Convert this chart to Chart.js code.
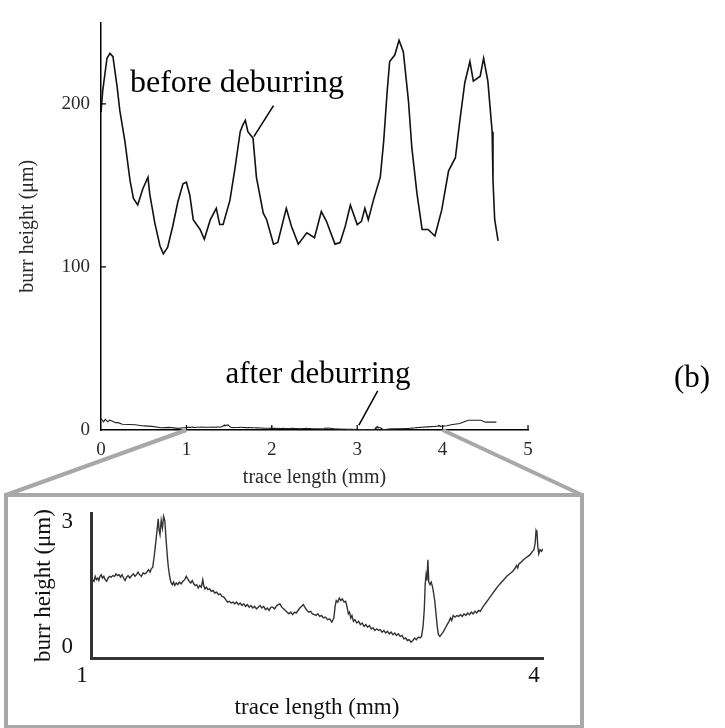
<!DOCTYPE html>
<html>
<head>
<meta charset="utf-8">
<script src="https://cdn.jsdelivr.net/npm/chart.js@4.4.1/dist/chart.umd.min.js"></script>
<style>
  html, body { margin: 0; padding: 0; background: #fff; }
  #wrap { position: relative; width: 725px; height: 728px; }
  #wrap canvas { position: absolute; left: 0; top: 0; }
</style>
</head>
<body>
<div id="wrap">
  <canvas id="mainChart" width="725" height="728"></canvas>
  <canvas id="zoomChart" width="725" height="728"></canvas>
</div>
<script>
// burr profile before deburring (trace length mm / height um)
const beforeX = [0.00, 0.02, 0.07, 0.105, 0.14, 0.19, 0.22, 0.28, 0.34, 0.38, 0.43, 0.49, 0.55, 0.57, 0.63, 0.69, 0.73, 0.78, 0.84, 0.90, 0.96, 1.00,
  1.04, 1.08, 1.16, 1.21, 1.28, 1.35, 1.39, 1.43, 1.51, 1.57, 1.63, 1.66, 1.69, 1.72, 1.78, 1.82, 1.90, 1.94, 2.02, 2.07, 2.17, 2.23, 2.31,
  2.41, 2.50, 2.58, 2.64, 2.74, 2.80, 2.86, 2.92, 3.00, 3.05, 3.09, 3.13, 3.19, 3.27, 3.31, 3.35, 3.38, 3.44, 3.49, 3.54, 3.60, 3.64, 3.70,
  3.76, 3.83, 3.87, 3.91, 3.99, 4.07, 4.15, 4.20, 4.26, 4.32, 4.36, 4.44, 4.48, 4.53, 4.58, 4.59, 4.61, 4.65];
const beforeY = [195, 208, 228, 231, 229, 210, 196, 177, 153, 142, 138, 148, 155, 145, 127, 113, 108, 112, 125, 140, 151, 152,
  144, 129, 123, 117, 129, 136, 126, 126, 141, 161, 183, 187, 190, 183, 179, 155, 133, 129, 114, 115, 136, 125, 114,
  121, 118, 134, 128, 114, 115, 125, 138, 126, 128, 136, 129, 141, 155, 177, 207, 226, 230, 239, 232, 202, 173, 145,
  123, 123, 121, 119, 135, 159, 167, 189, 213, 226, 214, 217, 228, 214, 183, 153, 129, 116];

// after deburring, outside the magnified span
const afterHeadX = [0.00, 0.03, 0.05, 0.08, 0.10, 0.13, 0.17, 0.20, 0.25, 0.40, 0.50, 0.60, 0.70, 0.80, 0.90, 0.96];
const afterHeadY = [7.0, 5.0, 6.5, 5.0, 6.0, 5.5, 4.5, 4.5, 3.5, 3.2, 2.5, 2.2, 1.4, 1.6, 1.0, 1.4];
const afterTailX = [4.05, 4.10, 4.20, 4.27, 4.30, 4.45, 4.50, 4.63];
const afterTailY = [2.6, 3.2, 4.0, 5.4, 6.0, 6.0, 4.8, 4.8];

// after deburring, 1-4 mm (magnified)
const zoomX = [1.000, 1.010, 1.020, 1.028, 1.036, 1.045, 1.052, 1.060, 1.068, 1.076, 1.085, 1.094, 1.104, 1.114, 1.124, 1.134, 1.145,
  1.156, 1.166, 1.176, 1.186, 1.196, 1.206, 1.216, 1.226, 1.236, 1.246, 1.258, 1.270, 1.282, 1.292, 1.302, 1.312, 1.322, 1.334, 1.346,
  1.358, 1.370, 1.382, 1.392, 1.400, 1.410, 1.420, 1.430, 1.440, 1.446, 1.452, 1.458, 1.466, 1.474, 1.482, 1.490, 1.496, 1.502, 1.508,
  1.514, 1.522, 1.530, 1.540, 1.548, 1.556, 1.566, 1.576, 1.586, 1.598, 1.610, 1.622, 1.632, 1.642, 1.652, 1.662, 1.672, 1.682, 1.692,
  1.702, 1.712, 1.722, 1.732, 1.742, 1.748, 1.756, 1.766, 1.776, 1.788, 1.798, 1.810, 1.822, 1.834, 1.846, 1.858, 1.870, 1.882, 1.894,
  1.906, 1.918, 1.930, 1.942, 1.954, 1.966, 1.978, 1.990, 2.002, 2.014, 2.026, 2.038, 2.050, 2.062, 2.074, 2.086, 2.098, 2.110, 2.122,
  2.134, 2.146, 2.158, 2.170, 2.182, 2.194, 2.206, 2.218, 2.230, 2.242, 2.254, 2.266, 2.278, 2.290, 2.302, 2.314, 2.326, 2.338, 2.350,
  2.362, 2.374, 2.386, 2.398, 2.410, 2.422, 2.434, 2.446, 2.458, 2.470, 2.482, 2.494, 2.506, 2.518, 2.530, 2.542, 2.556, 2.570, 2.584,
  2.598, 2.612, 2.620, 2.628, 2.638, 2.648, 2.658, 2.668, 2.680, 2.690, 2.700, 2.708, 2.716, 2.724, 2.732, 2.742, 2.752, 2.764, 2.776,
  2.788, 2.800, 2.812, 2.824, 2.836, 2.848, 2.860, 2.872, 2.884, 2.896, 2.908, 2.920, 2.932, 2.944, 2.956, 2.968, 2.980, 2.992, 3.004,
  3.016, 3.028, 3.040, 3.052, 3.064, 3.076, 3.088, 3.100, 3.112, 3.124, 3.136, 3.148, 3.160, 3.172, 3.184, 3.194, 3.204, 3.212, 3.218,
  3.224, 3.230, 3.236, 3.242, 3.250, 3.258, 3.266, 3.274, 3.282, 3.290, 3.298, 3.306, 3.316, 3.328, 3.340, 3.352, 3.364, 3.376, 3.386,
  3.394, 3.404, 3.416, 3.428, 3.440, 3.452, 3.464, 3.476, 3.488, 3.500, 3.512, 3.524, 3.536, 3.548, 3.560, 3.572, 3.584, 3.600, 3.620,
  3.640, 3.660, 3.680, 3.700, 3.720, 3.740, 3.760, 3.780, 3.800, 3.815, 3.825, 3.832, 3.840, 3.855, 3.870, 3.885, 3.900, 3.915, 3.930,
  3.940, 3.948, 3.954, 3.960, 3.966, 3.972, 3.980, 3.990, 4.000];
const zoomY = [1.56, 1.62, 1.58, 1.70, 1.62, 1.66, 1.60, 1.70, 1.74, 1.66, 1.70, 1.62, 1.58, 1.66, 1.70, 1.68, 1.72,
  1.70, 1.76, 1.72, 1.74, 1.68, 1.74, 1.66, 1.60, 1.68, 1.72, 1.66, 1.72, 1.76, 1.70, 1.74, 1.80, 1.74, 1.70, 1.78,
  1.76, 1.80, 1.86, 1.80, 1.88, 1.92, 2.20, 2.52, 2.86, 3.08, 2.80, 2.70, 3.04, 2.86, 3.14, 3.04, 2.70, 2.40, 2.12,
  1.90, 1.70, 1.56, 1.50, 1.56, 1.48, 1.54, 1.50, 1.56, 1.52, 1.58, 1.62, 1.70, 1.64, 1.58, 1.54, 1.60, 1.52, 1.48,
  1.50, 1.42, 1.48, 1.44, 1.62, 1.48, 1.40, 1.44, 1.38, 1.40, 1.34, 1.36, 1.30, 1.32, 1.26, 1.28, 1.22, 1.20, 1.14,
  1.08, 1.10, 1.06, 1.08, 1.04, 1.08, 1.02, 1.06, 1.00, 1.04, 0.98, 1.02, 0.96, 1.00, 0.94, 0.98, 0.92, 0.96, 1.00,
  0.94, 0.98, 0.90, 0.94, 0.88, 0.96, 0.96, 0.92, 0.98, 1.02, 1.04, 0.96, 0.92, 0.88, 0.84, 0.80, 0.84, 0.78, 0.84,
  0.82, 0.88, 0.94, 0.98, 1.02, 0.94, 0.88, 0.84, 0.86, 0.80, 0.78, 0.76, 0.80, 0.74, 0.76, 0.70, 0.72, 0.66, 0.68,
  0.60, 0.70, 0.98, 1.12, 1.08, 1.18, 1.12, 1.16, 1.08, 1.10, 0.96, 0.80, 0.84, 0.70, 0.76, 0.62, 0.66, 0.58, 0.62,
  0.54, 0.58, 0.50, 0.54, 0.48, 0.52, 0.44, 0.46, 0.40, 0.44, 0.40, 0.42, 0.36, 0.40, 0.34, 0.38, 0.32, 0.36, 0.30,
  0.34, 0.28, 0.32, 0.26, 0.28, 0.20, 0.22, 0.16, 0.18, 0.12, 0.16, 0.22, 0.18, 0.24, 0.22, 0.26, 0.50, 0.90, 1.50,
  1.74, 1.60, 2.10, 1.56, 1.50, 1.56, 1.46, 1.30, 1.10, 0.80, 0.50, 0.30, 0.26, 0.32, 0.38, 0.46, 0.54, 0.62, 0.70,
  0.64, 0.76, 0.72, 0.76, 0.74, 0.78, 0.74, 0.80, 0.76, 0.82, 0.78, 0.84, 0.80, 0.86, 0.82, 0.88, 0.86, 0.96, 1.06,
  1.16, 1.26, 1.36, 1.46, 1.54, 1.62, 1.70, 1.76, 1.82, 1.90, 1.96, 1.90, 2.00, 2.04, 2.10, 2.14, 2.18, 2.22, 2.30,
  2.34, 2.50, 2.80, 2.74, 2.40, 2.24, 2.34, 2.30, 2.36];

const mainXTicks = [0, 1, 2, 3, 4, 5];
const mainYTicks = [0, 100, 200];
const zoomXTicks = [1, 4];
const zoomYTicks = [0, 3];

const toPoints = (xs, ys) => xs.map((x, i) => ({ x: x, y: ys[i] }));
const afterX = afterHeadX.concat(zoomX, afterTailX);
const afterY = afterHeadY.concat(zoomY, afterTailY);

const serif = '"Liberation Serif", "Times New Roman", serif';

// frame, connector lines, inward ticks and curve labels
const overlay = {
  id: 'overlay',
  afterDraw(chart) {
    const { ctx, scales: { x, y } } = chart;
    const base = y.getPixelForValue(0);
    const px = (vx, vy) => [x.getPixelForValue(vx), y.getPixelForValue(vy)];
    ctx.save();

    ctx.strokeStyle = '#000';
    ctx.lineWidth = 1.2;
    ctx.beginPath();
    mainXTicks.slice(1).forEach(v => {
      const p = x.getPixelForValue(v);
      ctx.moveTo(p, base); ctx.lineTo(p, base - 5);
    });
    mainYTicks.slice(1).forEach(v => {
      const p = y.getPixelForValue(v);
      ctx.moveTo(x.left, p); ctx.lineTo(x.left + 5, p);
    });
    ctx.stroke();

    ctx.strokeStyle = '#a8a8a8';
    ctx.lineWidth = 4;
    ctx.beginPath();
    ctx.moveTo(x.getPixelForValue(zoomXTicks[0]), base); ctx.lineTo(6, 495);
    ctx.moveTo(x.getPixelForValue(zoomXTicks[1]), base); ctx.lineTo(582, 495);
    ctx.stroke();
    ctx.strokeRect(6, 495, 576, 232);

    ctx.strokeStyle = '#000';
    ctx.lineWidth = 1.5;
    ctx.beginPath();
    let a = px(1.79, 180), b = px(2.02, 199);
    ctx.moveTo(a[0], a[1]); ctx.lineTo(b[0], b[1]);
    a = px(3.02, 3); b = px(3.24, 24);
    ctx.moveTo(a[0], a[1]); ctx.lineTo(b[0], b[1]);
    ctx.stroke();

    ctx.fillStyle = '#000';
    ctx.textAlign = 'center';
    ctx.textBaseline = 'alphabetic';
    ctx.font = '32px ' + serif;
    ctx.fillText('before deburring', 237, 92);
    ctx.font = '31px ' + serif;
    ctx.fillText('after deburring', 318, 383);
    ctx.fillText('(b)', 692, 387);
    ctx.restore();
  }
};

new Chart(document.getElementById('mainChart'), {
  type: 'line',
  data: {
    datasets: [
      { data: toPoints(beforeX, beforeY), borderColor: '#111', borderWidth: 1.6, pointRadius: 0, tension: 0 },
      { data: toPoints(afterX, afterY), borderColor: '#222', borderWidth: 1.1, pointRadius: 0, tension: 0 }
    ]
  },
  options: {
    responsive: false,
    animation: false,
    events: [],
    layout: { padding: { left: 0, top: 10, right: 197, bottom: 238 } },
    plugins: { legend: { display: false }, tooltip: { enabled: false } },
    scales: {
      x: {
        type: 'linear', min: 0, max: 5,
        afterBuildTicks: s => { s.ticks = mainXTicks.map(v => ({ value: v })); },
        afterFit: s => { s.height = 60; },
        grid: { display: false, drawTicks: false },
        border: { display: true, color: '#000', width: 1.5 },
        ticks: { font: { family: serif, size: 19 }, color: '#2a2a2a', padding: 9, maxRotation: 0 },
        title: { display: true, text: 'trace length (mm)', font: { family: serif, size: 20 }, color: '#2a2a2a', padding: { top: 0, bottom: 0 } }
      },
      y: {
        type: 'linear', min: 0, max: 250,
        afterBuildTicks: s => { s.ticks = mainYTicks.map(v => ({ value: v })); },
        afterFit: s => { s.width = 101; },
        grid: { display: false, drawTicks: false },
        border: { display: true, color: '#000', width: 1.5 },
        ticks: { font: { family: serif, size: 19 }, color: '#2a2a2a', padding: 11 },
        title: { display: true, text: 'burr height (μm)', font: { family: serif, size: 20 }, color: '#2a2a2a', padding: { top: 16, bottom: 0 } }
      }
    }
  },
  plugins: [overlay]
});

new Chart(document.getElementById('zoomChart'), {
  type: 'line',
  data: {
    datasets: [
      { data: toPoints(zoomX, zoomY), borderColor: '#333', borderWidth: 1.4, pointRadius: 0, tension: 0 }
    ]
  },
  options: {
    responsive: false,
    animation: false,
    events: [],
    layout: { padding: { left: 0, top: 513, right: 182, bottom: 6 } },
    plugins: { legend: { display: false }, tooltip: { enabled: false } },
    scales: {
      x: {
        type: 'linear', min: 1, max: 4,
        afterBuildTicks: s => { s.ticks = zoomXTicks.map(v => ({ value: v })); },
        afterFit: s => { s.height = 64; },
        grid: { display: false, drawTicks: false },
        border: { display: true, color: '#333', width: 3 },
        ticks: { font: { family: serif, size: 23 }, color: '#111', padding: 4, labelOffset: -9, maxRotation: 0 },
        title: { display: true, text: 'trace length (mm)', font: { family: serif, size: 23 }, color: '#111', padding: { top: 0, bottom: 0 } }
      },
      y: {
        type: 'linear', min: -0.26, max: 3.22,
        afterBuildTicks: s => { s.ticks = zoomYTicks.map(v => ({ value: v })); },
        afterFit: s => { s.width = 91; },
        grid: { display: false, drawTicks: false },
        border: { display: true, color: '#333', width: 3 },
        ticks: { font: { family: serif, size: 23 }, color: '#111', padding: 18 },
        title: { display: true, text: 'burr height (μm)', font: { family: serif, size: 23 }, color: '#111', padding: { top: 30, bottom: 0 } }
      }
    }
  }
});
</script>
</body>
</html>
